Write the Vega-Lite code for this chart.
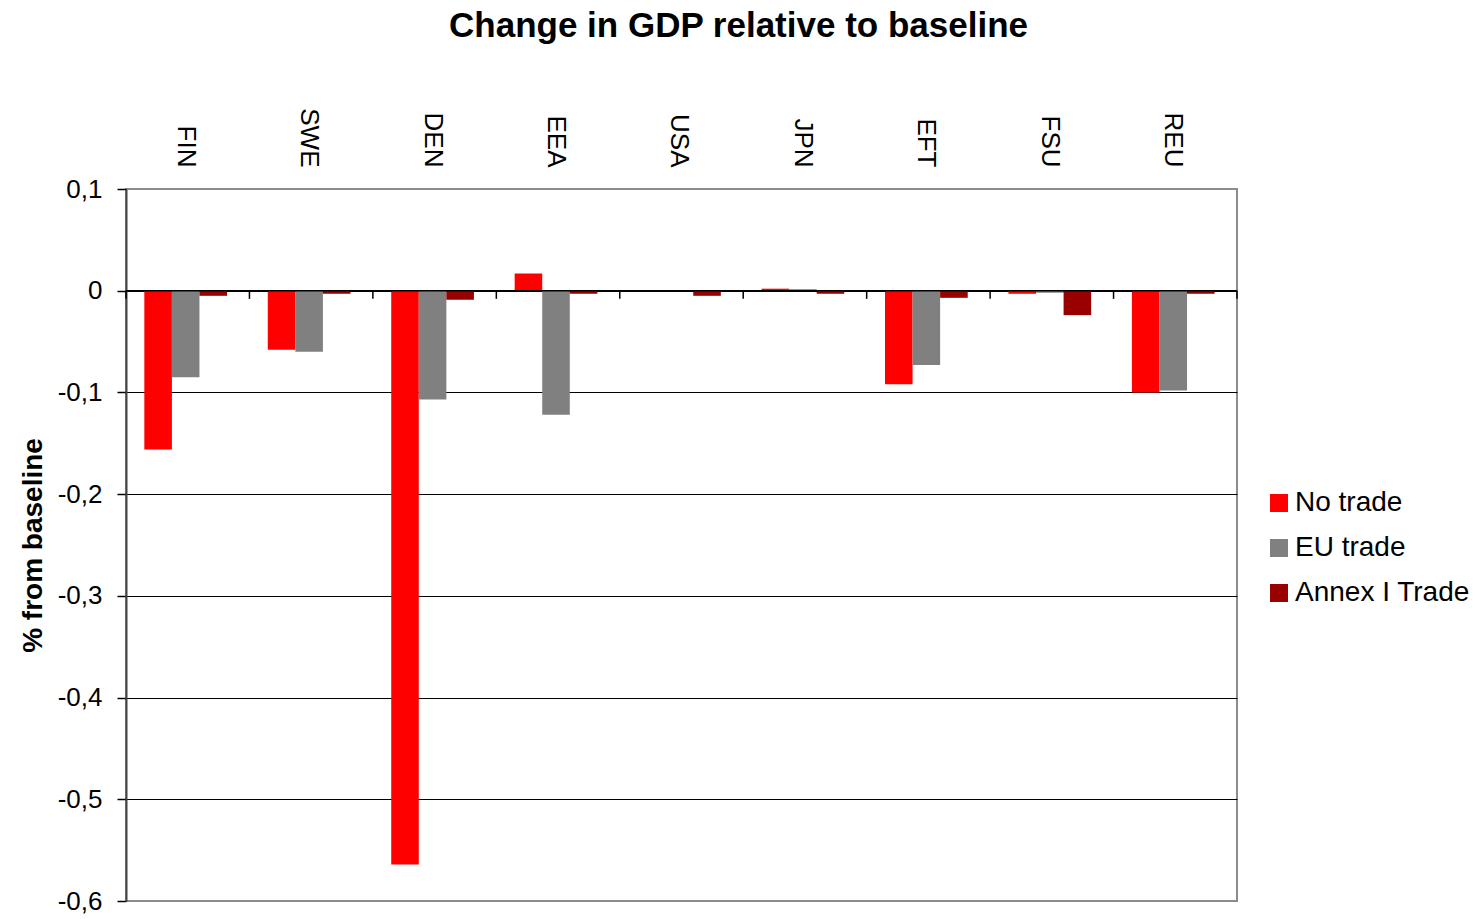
{
  "$schema": "https://vega.github.io/schema/vega-lite/v6.json",
  "width": 1111,
  "height": 712,
  "autosize": {"type": "none"},
  "padding": {"left": 126, "top": 189, "right": 238, "bottom": 18},
  "background": "white",
  "title": {
    "text": "Change in GDP relative to baseline",
    "font": "Liberation Sans",
    "fontSize": 35,
    "fontWeight": "bold",
    "color": "black",
    "anchor": "middle",
    "dx": 57,
    "offset": 64
  },
  "config": {
    "font": "Liberation Sans",
    "view": {"stroke": "#8c8c8c", "strokeWidth": 2}
  },
  "datasets": {
    "gdp": [
      {"region": "FIN", "scenario": "No trade", "change": -0.156},
      {"region": "FIN", "scenario": "EU trade", "change": -0.085},
      {"region": "FIN", "scenario": "Annex I Trade", "change": -0.005},
      {"region": "SWE", "scenario": "No trade", "change": -0.058},
      {"region": "SWE", "scenario": "EU trade", "change": -0.06},
      {"region": "SWE", "scenario": "Annex I Trade", "change": -0.003},
      {"region": "DEN", "scenario": "No trade", "change": -0.564},
      {"region": "DEN", "scenario": "EU trade", "change": -0.107},
      {"region": "DEN", "scenario": "Annex I Trade", "change": -0.009},
      {"region": "EEA", "scenario": "No trade", "change": 0.017},
      {"region": "EEA", "scenario": "EU trade", "change": -0.122},
      {"region": "EEA", "scenario": "Annex I Trade", "change": -0.003},
      {"region": "USA", "scenario": "No trade", "change": 0},
      {"region": "USA", "scenario": "EU trade", "change": 0},
      {"region": "USA", "scenario": "Annex I Trade", "change": -0.005},
      {"region": "JPN", "scenario": "No trade", "change": 0.002},
      {"region": "JPN", "scenario": "EU trade", "change": 0.0015},
      {"region": "JPN", "scenario": "Annex I Trade", "change": -0.003},
      {"region": "EFT", "scenario": "No trade", "change": -0.092},
      {"region": "EFT", "scenario": "EU trade", "change": -0.073},
      {"region": "EFT", "scenario": "Annex I Trade", "change": -0.007},
      {"region": "FSU", "scenario": "No trade", "change": -0.003},
      {"region": "FSU", "scenario": "EU trade", "change": -0.002},
      {"region": "FSU", "scenario": "Annex I Trade", "change": -0.024},
      {"region": "REU", "scenario": "No trade", "change": -0.1},
      {"region": "REU", "scenario": "EU trade", "change": -0.098},
      {"region": "REU", "scenario": "Annex I Trade", "change": -0.003}
    ],
    "boundaries": [
      {"position": 0}, {"position": 1}, {"position": 2}, {"position": 3}, {"position": 4},
      {"position": 5}, {"position": 6}, {"position": 7}, {"position": 8}, {"position": 9}
    ]
  },
  "layer": [
    {
      "data": {"name": "gdp"},
      "mark": {"type": "bar"},
      "encoding": {
        "x": {
          "field": "region",
          "type": "nominal",
          "sort": null,
          "scale": {"paddingInner": 0.33, "paddingOuter": 0.165, "align": 0.45},
          "axis": {
            "orient": "top",
            "title": null,
            "domain": false,
            "ticks": false,
            "labelAngle": 90,
            "labelAlign": "right",
            "labelBaseline": "middle",
            "labelPadding": 22,
            "labelFont": "Liberation Sans",
            "labelFontSize": 26,
            "labelColor": "black"
          }
        },
        "xOffset": {
          "field": "scenario",
          "type": "nominal",
          "sort": ["No trade", "EU trade", "Annex I Trade"],
          "scale": {"paddingInner": 0, "paddingOuter": 0}
        },
        "y": {
          "field": "change",
          "type": "quantitative",
          "scale": {"domain": [-0.6, 0.1], "nice": false, "zero": false},
          "axis": {
            "title": "% from baseline",
            "titleFont": "Liberation Sans",
            "titleFontSize": 28,
            "titleFontWeight": "bold",
            "titleColor": "black",
            "titlePadding": 10,
            "values": [0.1, 0, -0.1, -0.2, -0.3, -0.4, -0.5, -0.6],
            "labelExpr": "datum.value == 0 ? '0' : replace(toString(round(datum.value * 10) / 10), '.', ',')",
            "labelFont": "Liberation Sans",
            "labelFontSize": 26,
            "labelColor": "black",
            "labelPadding": 15,
            "tickSize": 9,
            "tickColor": "black",
            "tickWidth": 1.5,
            "domainColor": "#444444",
            "domainWidth": 2,
            "grid": true,
            "gridColor": {
              "condition": {"test": "datum.value > 0.05 || datum.value < -0.55", "value": "transparent"},
              "value": "black"
            },
            "gridWidth": 1.2,
            "gridOpacity": 1
          }
        },
        "color": {
          "field": "scenario",
          "type": "nominal",
          "sort": ["No trade", "EU trade", "Annex I Trade"],
          "scale": {
            "domain": ["No trade", "EU trade", "Annex I Trade"],
            "range": ["#ff0000", "#808080", "#990000"]
          },
          "legend": {
            "title": null,
            "orient": "none",
            "legendX": 1139,
            "legendY": 300,
            "padding": 0,
            "symbolType": "square",
            "symbolSize": 324,
            "symbolStrokeWidth": 0,
            "labelFont": "Liberation Sans",
            "labelFontSize": 28,
            "labelColor": "black",
            "labelOffset": 2,
            "labelLimit": 0,
            "rowPadding": 17
          }
        }
      }
    },
    {
      "data": {"name": "boundaries"},
      "mark": {"type": "rule", "color": "black", "strokeWidth": 1.5},
      "encoding": {
        "x": {
          "field": "position",
          "type": "quantitative",
          "scale": {"domain": [0, 9], "nice": false, "zero": false},
          "axis": null
        },
        "y": {"datum": 0},
        "y2": {"datum": -0.008}
      }
    },
    {
      "data": {"values": [{"level": 0}]},
      "mark": {"type": "rule", "color": "black", "strokeWidth": 1.5},
      "encoding": {
        "y": {"field": "level", "type": "quantitative"}
      }
    }
  ],
  "resolve": {"scale": {"x": "independent"}}
}
